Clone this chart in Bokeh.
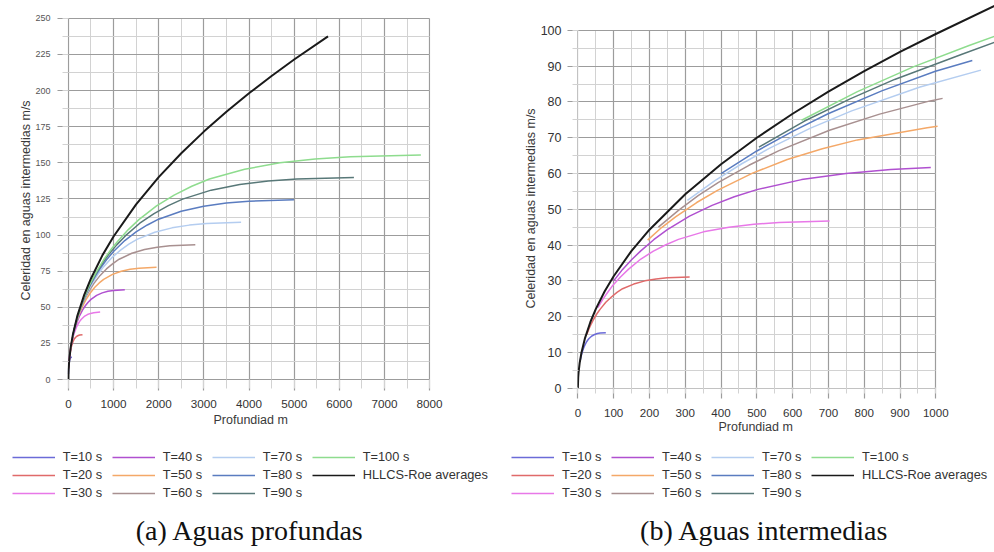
from bokeh.plotting import figure
from bokeh.models import Range1d, SingleIntervalTicker, Legend, LegendItem, Label, Title
from bokeh.layouts import row, column
from bokeh.embed import file_html
from bokeh.resources import INLINE

# ---------------- data ----------------
series_labels = ["T=10 s", "T=20 s", "T=30 s", "T=40 s", "T=50 s", "T=60 s",
                 "T=70 s", "T=80 s", "T=90 s", "T=100 s", "HLLCS-Roe averages"]
series_colors = ["#6b6bd8", "#e06a6a", "#e878e8", "#b050d0", "#f4a868", "#a89090",
                 "#b4cdf0", "#5a7cc0", "#587878", "#8edc8e", "#1a1a1a"]

# (a) Aguas profundas
deep_depth_T10 = [1.6, 3.1, 4.7, 6.2, 7.8, 9.4, 10.9, 13.3, 15.6, 19.5, 23.4, 27.3, 31.2, 39.0, 46.8, 54.6, 62.4, 78.1]
deep_speed_T10 = [3.9, 5.4, 6.6, 7.5, 8.3, 9.0, 9.6, 10.4, 11.1, 12.0, 12.8, 13.4, 13.9, 14.6, 15.0, 15.3, 15.4, 15.5]
deep_depth_T20 = [6, 12, 19, 25, 31, 37, 44, 53, 62, 78, 94, 109, 125, 156, 187, 219, 250, 312]
deep_speed_T20 = [7.7, 10.8, 13.1, 15.0, 16.6, 18.0, 19.2, 20.8, 22.1, 24.0, 25.5, 26.8, 27.8, 29.1, 30.0, 30.5, 30.9, 31.1]
deep_depth_T30 = [14, 28, 42, 56, 70, 84, 98, 119, 141, 176, 211, 246, 281, 351, 422, 492, 562, 703]
deep_speed_T30 = [11.6, 16.3, 19.7, 22.5, 24.9, 26.9, 28.8, 31.1, 33.2, 36.1, 38.3, 40.1, 41.6, 43.7, 45.0, 45.8, 46.3, 46.7]
deep_depth_T40 = [25, 50, 75, 100, 125, 150, 175, 212, 250, 312, 375, 437, 500, 625, 749, 874, 999, 1249]
deep_speed_T40 = [15.5, 21.7, 26.2, 30.0, 33.2, 35.9, 38.3, 41.5, 44.3, 48.1, 51.1, 53.5, 55.5, 58.3, 60.0, 61.1, 61.7, 62.2]
deep_depth_T50 = [39, 78, 117, 156, 195, 234, 273, 332, 390, 488, 585, 683, 781, 976, 1171, 1366, 1561, 1952]
deep_speed_T50 = [19.4, 27.1, 32.8, 37.5, 41.4, 44.9, 47.9, 51.9, 55.3, 60.1, 63.9, 66.9, 69.4, 72.8, 75.0, 76.3, 77.1, 77.7]
deep_depth_T60 = [56, 112, 169, 225, 281, 337, 393, 478, 562, 703, 843, 984, 1124, 1405, 1686, 1967, 2248, 2811]
deep_speed_T60 = [23.2, 32.5, 39.3, 45.0, 49.7, 53.9, 57.5, 62.3, 66.4, 72.1, 76.6, 80.3, 83.3, 87.4, 90.0, 91.6, 92.6, 93.3]
deep_depth_T70 = [77, 153, 230, 306, 383, 459, 536, 650, 765, 956, 1148, 1339, 1530, 1913, 2295, 2678, 3060, 3825]
deep_speed_T70 = [27.1, 37.9, 45.9, 52.5, 58.0, 62.8, 67.1, 72.7, 77.5, 84.2, 89.4, 93.7, 97.2, 102.0, 105.0, 106.9, 108.0, 108.9]
deep_depth_T80 = [100, 200, 300, 400, 500, 600, 699, 849, 999, 1249, 1499, 1749, 1998, 2498, 2998, 3497, 3997, 4996]
deep_speed_T80 = [31.0, 43.3, 52.5, 60.0, 66.3, 71.8, 76.7, 83.1, 88.6, 96.2, 102.2, 107.0, 111.0, 116.5, 120.0, 122.2, 123.4, 124.4]
deep_depth_T90 = [126, 253, 379, 506, 632, 759, 885, 1075, 1265, 1581, 1897, 2213, 2529, 3162, 3794, 4426, 5059, 6324]
deep_speed_T90 = [34.8, 48.8, 59.0, 67.4, 74.6, 80.8, 86.3, 93.4, 99.6, 108.2, 114.9, 120.4, 124.9, 131.1, 135.0, 137.4, 138.8, 139.9]
deep_depth_T100 = [156, 312, 468, 625, 781, 937, 1093, 1327, 1561, 1952, 2342, 2732, 3123, 3903, 4684, 5465, 6245, 7807]
deep_speed_T100 = [38.7, 54.2, 65.6, 74.9, 82.9, 89.8, 95.8, 103.8, 110.7, 120.2, 127.7, 133.8, 138.8, 145.6, 150.0, 152.7, 154.2, 155.5]
deep_depth_roe = [0, 1, 2, 5, 20, 50, 100, 200, 350, 500, 750, 1000, 1500, 2000, 2500, 3000, 3500, 4000, 4500, 5000, 5750]
deep_speed_roe = [0, 3.1, 4.4, 7.0, 14.0, 22.1, 31.3, 44.3, 58.6, 70.0, 85.8, 99.0, 121.3, 140.1, 156.6, 171.6, 185.3, 198.1, 210.1, 221.5, 237.5]

# (b) Aguas intermedias
inter_depth_T10 = [6.2, 7.8, 9.4, 10.9, 13.3, 15.6, 19.5, 23.4, 27.3, 31.2, 39.0, 46.8, 54.6, 62.4, 78.1]
inter_speed_T10 = [7.5, 8.3, 9.0, 9.6, 10.4, 11.1, 12.0, 12.8, 13.4, 13.9, 14.6, 15.0, 15.3, 15.4, 15.5]
inter_depth_T20 = [25.0, 31.2, 37.5, 43.7, 53.1, 62.5, 78.1, 93.7, 109.3, 124.9, 156.1, 187.4, 218.6, 249.8, 312.3]
inter_speed_T20 = [15.0, 16.6, 18.0, 19.2, 20.8, 22.1, 24.0, 25.5, 26.8, 27.8, 29.1, 30.0, 30.5, 30.9, 31.1]
inter_depth_T30 = [56, 70, 84, 98, 119, 141, 176, 211, 246, 281, 351, 422, 492, 562, 703]
inter_speed_T30 = [22.5, 24.9, 26.9, 28.8, 31.1, 33.2, 36.1, 38.3, 40.1, 41.6, 43.7, 45.0, 45.8, 46.3, 46.7]
inter_depth_T40 = [100, 125, 150, 175, 212, 250, 312, 375, 437, 500, 625, 749, 874, 986]
inter_speed_T40 = [30.0, 33.2, 35.9, 38.3, 41.5, 44.3, 48.1, 51.1, 53.5, 55.5, 58.3, 60.0, 61.1, 61.7]
inter_depth_T50 = [195, 234, 273, 332, 390, 488, 585, 683, 781, 976, 1005]
inter_speed_T50 = [41.4, 44.9, 47.9, 51.9, 55.3, 60.1, 63.9, 66.9, 69.4, 72.8, 73.2]
inter_depth_T60 = [225, 281, 337, 393, 478, 562, 703, 843, 984, 1019]
inter_speed_T60 = [45.0, 49.7, 53.9, 57.5, 62.3, 66.4, 72.1, 76.6, 80.3, 81.0]
inter_depth_T70 = [306, 383, 459, 536, 650, 765, 956, 1126]
inter_speed_T70 = [52.5, 58.0, 62.8, 67.1, 72.7, 77.5, 84.2, 88.9]
inter_depth_T80 = [400, 500, 600, 699, 849, 999, 1102]
inter_speed_T80 = [60.0, 66.3, 71.8, 76.7, 83.1, 88.6, 91.6]
inter_depth_T90 = [506, 632, 759, 885, 1075, 1165]
inter_speed_T90 = [67.4, 74.6, 80.8, 86.3, 93.4, 96.7]
inter_depth_T100 = [625, 781, 937, 1093, 1165]
inter_speed_T100 = [74.9, 82.9, 89.8, 95.8, 98.4]
inter_depth_roe = [0, 1, 2, 5, 10, 20, 35, 50, 75, 100, 150, 200, 300, 400, 500, 600, 700, 800, 900, 1000, 1165]
inter_speed_roe = [0, 3.1, 4.4, 7.0, 9.9, 14.0, 18.5, 22.1, 27.1, 31.3, 38.4, 44.3, 54.2, 62.6, 70.0, 76.7, 82.9, 88.6, 94.0, 99.0, 106.9]

deep_series = [(deep_depth_T10, deep_speed_T10), (deep_depth_T20, deep_speed_T20),
               (deep_depth_T30, deep_speed_T30), (deep_depth_T40, deep_speed_T40),
               (deep_depth_T50, deep_speed_T50), (deep_depth_T60, deep_speed_T60),
               (deep_depth_T70, deep_speed_T70), (deep_depth_T80, deep_speed_T80),
               (deep_depth_T90, deep_speed_T90), (deep_depth_T100, deep_speed_T100),
               (deep_depth_roe, deep_speed_roe)]
inter_series = [(inter_depth_T10, inter_speed_T10), (inter_depth_T20, inter_speed_T20),
                (inter_depth_T30, inter_speed_T30), (inter_depth_T40, inter_speed_T40),
                (inter_depth_T50, inter_speed_T50), (inter_depth_T60, inter_speed_T60),
                (inter_depth_T70, inter_speed_T70), (inter_depth_T80, inter_speed_T80),
                (inter_depth_T90, inter_speed_T90), (inter_depth_T100, inter_speed_T100),
                (inter_depth_roe, inter_speed_roe)]

x_title = "Profundiad m"
y_title = "Celeridad en aguas intermedias m/s"
caption_a = "(a) Aguas profundas"
caption_b = "(b) Aguas intermedias"

FONT = "Liberation Sans"
SERIF = "Liberation Serif"
MAJOR = "#9c9c9c"
MINOR = "#d2d2d2"
BLACK = "#1a1a1a"
ROW_BOTTOM = 50


def build(series, width, fw, mb_left, xr, yr, xint, yint, xb, yb,
          xlab_size, ylab_size, xstand, ystand, ylab_color, ticks,
          xtitle_off, xtitle_standoff, ytitle_off):
    p = figure(width=width, frame_width=fw, frame_height=386,
               x_range=Range1d(*xr), y_range=Range1d(*yr),
               output_backend="svg", toolbar_location=None,
               min_border_left=mb_left, min_border_right=width - mb_left - fw,
               min_border_top=2, min_border_bottom=ROW_BOTTOM)
    p.outline_line_color = None
    p.background_fill_color = "white"
    p.border_fill_color = "white"

    xt = SingleIntervalTicker(interval=xint, num_minor_ticks=2)
    yt = SingleIntervalTicker(interval=yint, num_minor_ticks=2)
    p.xaxis.ticker = xt
    p.yaxis.ticker = yt
    p.xaxis.bounds = xb
    p.yaxis.bounds = yb
    for ax in (p.xaxis, p.yaxis):
        ax.axis_line_color = None
        ax.major_tick_line_color = MAJOR
        ax.major_tick_line_width = 1.2
        ax.minor_tick_line_color = MINOR
        ax.major_label_text_font = FONT
    (xin, xout, xmin_in, xmin_out) = ticks
    p.xaxis.major_tick_in = xin
    p.xaxis.major_tick_out = xout
    p.xaxis.minor_tick_in = xmin_in
    p.xaxis.minor_tick_out = xmin_out
    p.yaxis.major_tick_in = 1
    p.yaxis.major_tick_out = 10
    p.yaxis.minor_tick_in = 1
    p.yaxis.minor_tick_out = 5
    p.xaxis.major_label_text_font_size = xlab_size
    p.yaxis.major_label_text_font_size = ylab_size
    p.xaxis.major_label_text_color = "#333333"
    p.yaxis.major_label_text_color = ylab_color
    p.xaxis.major_label_standoff = xstand
    p.yaxis.major_label_standoff = ystand

    p.xgrid.ticker = xt
    p.ygrid.ticker = yt
    p.xgrid.bounds = xb
    p.ygrid.bounds = yb
    p.xgrid.cross_bounds = yb
    p.ygrid.cross_bounds = xb
    for g in (p.xgrid, p.ygrid):
        g.grid_line_color = MAJOR
        g.grid_line_width = 1.2
        g.minor_grid_line_color = MINOR
        g.minor_grid_line_width = 1

    for (xs, ys), col in zip(series, series_colors):
        p.line(xs, ys, line_color=col, line_width=2 if col == BLACK else 1.5)

    xtitle = Title(text=x_title, align="left", offset=xtitle_off, standoff=xtitle_standoff,
                   vertical_align="top", text_font=FONT, text_font_size="12.5px",
                   text_font_style="normal", text_color="#3a3a3a")
    p.add_layout(xtitle, "below")
    ytitle = Title(text=y_title, align="left", offset=ytitle_off, standoff=0,
                   vertical_align="bottom", text_font=FONT, text_font_size="12.5px",
                   text_font_style="normal", text_color="#3a3a3a")
    p.add_layout(ytitle, "left")
    return p


# left panel: frame x 67..430, y 2..388 (y=0 at 379, 250 at 17.7)
left = build(deep_series, 498, 363, 67, (-20, 8020), (-6.16, 260.95),
             1000, 25, (0, 8000), (0, 250), "11.7px", "9px", 9, 7, "#555555",
             (9, 2, 9, 0), 146, 5, 88)
# right panel: frame x 577..994, y 2..388 (y=0 at 387.7, 100 at 30)
right = build(inter_series, 496, 417, 79, (-1, 1164), (-0.084, 107.8),
              100, 10, (0, 1000), (0, 100), "11.6px", "12.5px", 10, 6, "#333333",
              (1, 10, 1, 5), 141, 0, 80)

# bottom strip with both legends and the captions (screen-like data units)
strip_top = 388 + ROW_BOTTOM
bottom = figure(width=994, height=552 - strip_top, x_range=Range1d(0, 994),
                y_range=Range1d(552, strip_top),
                output_backend="svg", toolbar_location=None,
                x_axis_location=None, y_axis_location=None,
                min_border_left=0, min_border_right=0, min_border_top=0, min_border_bottom=0)
bottom.outline_line_color = None
bottom.grid.visible = False

for leg_x in (11.7, 511):
    items = []
    # legend keys: the same series, which fall outside this strip's visible range
    for (xs, ys), lab, col in zip(deep_series, series_labels, series_colors):
        r = bottom.line(xs, ys, line_color=col, line_width=1.6 if col == BLACK else 1.3)
        items.append(LegendItem(label=lab, renderers=[r]))
    leg = Legend(items=items, location=(leg_x, 52), orientation="vertical", nrows=3,
                 glyph_width=43, glyph_height=14, label_height=14, label_width=46,
                 label_standoff=8, spacing=3, padding=0, margin=0,
                 border_line_color=None, background_fill_alpha=0,
                 label_text_font=FONT, label_text_font_size="12.8px",
                 label_text_color="#333333")
    bottom.add_layout(leg, "center")

bottom.add_layout(Label(x=249.5, y=530, text=caption_a, text_align="center",
                        text_baseline="middle", text_font=SERIF, text_font_size="28px",
                        text_color="#111111"))
bottom.add_layout(Label(x=764, y=530, text=caption_b, text_align="center",
                        text_baseline="middle", text_font=SERIF, text_font_size="28px",
                        text_color="#111111"))

layout = column(row(left, right), bottom)
open("out.html", "w").write(file_html(layout, INLINE))
